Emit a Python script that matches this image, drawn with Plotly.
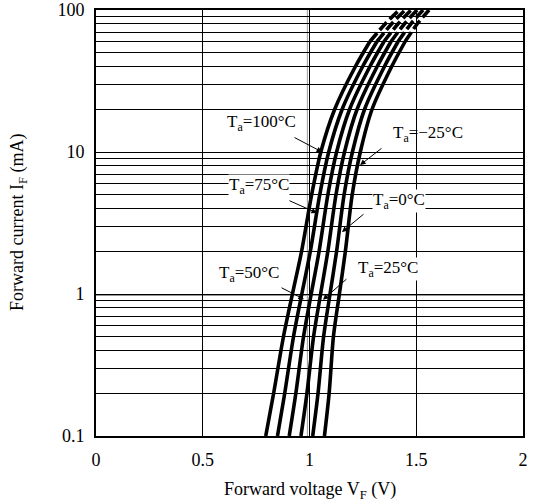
import math
import plotly.graph_objects as go

# ---- data ----
current_ma = [0.1, 0.2, 0.5, 1, 2, 5, 10, 20, 40, 60, 80, 100]
solid_end = 9  # index of 60 mA: solid up to here, dashed beyond

vf_100 = [0.795, 0.832, 0.878, 0.920, 0.963, 1.010, 1.053, 1.118, 1.215, 1.283, 1.355, 1.420]
vf_75 = [0.850, 0.884, 0.925, 0.964, 1.004, 1.048, 1.090, 1.153, 1.249, 1.316, 1.385, 1.448]
vf_50 = [0.905, 0.936, 0.972, 1.008, 1.045, 1.086, 1.127, 1.188, 1.283, 1.349, 1.415, 1.476]
vf_25 = [0.960, 0.988, 1.019, 1.052, 1.086, 1.124, 1.164, 1.223, 1.317, 1.382, 1.445, 1.504]
vf_0 = [1.015, 1.040, 1.066, 1.096, 1.127, 1.162, 1.201, 1.258, 1.351, 1.415, 1.475, 1.532]
vf_m25 = [1.070, 1.092, 1.112, 1.140, 1.168, 1.200, 1.238, 1.293, 1.385, 1.448, 1.505, 1.560]

series = [vf_100, vf_75, vf_50, vf_25, vf_0, vf_m25]

x_ticks = [0, 0.5, 1, 1.5, 2]
x_ticktext = ["0", "0.5", "1", "1.5", "2"]
y_ticks = [0.1, 1, 10, 100]
y_ticktext = ["0.1", "1", "10", "100"]
y_minor = [m * d for d in (0.1, 1, 10) for m in range(2, 10)]

labels = ["T<sub>a</sub>=100°C", "T<sub>a</sub>=75°C", "T<sub>a</sub>=50°C",
          "T<sub>a</sub>=25°C", "T<sub>a</sub>=0°C", "T<sub>a</sub>=−25°C"]
# label centre (V, mA), arrow tail (V, mA), arrow head (V, mA)
label_pos = [(0.773, 16.0), (0.763, 5.77), (0.717, 1.38), (1.368, 1.50), (1.419, 4.52), (1.555, 13.4)]
arrow_tail = [(0.923, 12.8), (0.899, 4.59), (0.862, 1.12), (1.180, 1.30), (1.260, 3.72), (1.344, 10.8)]
arrow_head = [(1.059, 10.0), (1.035, 3.72), (0.974, 0.92), (1.063, 0.91), (1.152, 2.73), (1.237, 8.1)]
label_bg = ["rgba(0,0,0,0)", "white", "white", "white", "white", "rgba(0,0,0,0)"]

FONT = "Liberation Serif, Times New Roman, serif"

fig = go.Figure()
for vf in series:
    fig.add_trace(go.Scatter(
        x=vf[:solid_end + 1], y=current_ma[:solid_end + 1], mode="lines",
        line=dict(color="black", width=3.6, shape="spline", smoothing=0.8),
        showlegend=False, hoverinfo="skip"))
    fig.add_trace(go.Scatter(
        x=vf[solid_end:], y=current_ma[solid_end:], mode="lines",
        line=dict(color="black", width=3.6, dash="11px,4px", shape="spline", smoothing=0.8),
        showlegend=False, hoverinfo="skip"))

annotations = []
for txt, (lx, ly), (tx, ty), (hx, hy), bg in zip(labels, label_pos, arrow_tail, arrow_head, label_bg):
    annotations.append(dict(
        x=hx, y=math.log10(hy), ax=tx, ay=math.log10(ty), axref="x", ayref="y",
        xref="x", yref="y", text="", showarrow=True, arrowhead=2, arrowsize=1.1,
        arrowwidth=1, arrowcolor="black", standoff=0, startstandoff=0))
    annotations.append(dict(
        x=lx, y=math.log10(ly), xref="x", yref="y", text=txt, showarrow=False,
        font=dict(family=FONT, size=17, color="black"), bgcolor=bg, borderpad=0,
        xanchor="center", yanchor="middle"))

annotations.append(dict(
    x=0.5, y=0, xref="paper", yref="paper", yshift=-54, xanchor="center", yanchor="middle",
    text="Forward voltage V<sub>F</sub> (V)", showarrow=False,
    font=dict(family=FONT, size=18, color="black")))
annotations.append(dict(
    x=0, y=0.5, xref="paper", yref="paper", xshift=-78, xanchor="center", yanchor="middle",
    text="Forward current I<sub>F</sub> (mA)", showarrow=False, textangle=-90,
    font=dict(family=FONT, size=18, color="black")))

shapes = [
    dict(type="line", xref="paper", x0=0, x1=1, yref="y", y0=math.log10(0.95), y1=math.log10(0.95),
         line=dict(color="#888888", width=1), layer="below"),
    dict(type="line", xref="paper", x0=0, x1=1, yref="y", y0=math.log10(9.5), y1=math.log10(9.5),
         line=dict(color="#888888", width=1), layer="below"),
    dict(type="line", yref="paper", y0=0, y1=1, xref="x", x0=0.99, x1=0.99,
         line=dict(color="#999999", width=1), layer="below"),
]

fig.update_layout(
    width=540, height=504,
    margin=dict(l=96, r=17, t=10, b=68, pad=0),
    paper_bgcolor="white", plot_bgcolor="white",
    font=dict(family=FONT, size=18, color="black"),
    annotations=annotations, shapes=shapes,
    xaxis=dict(range=[0, 2], tickvals=x_ticks, ticktext=x_ticktext,
               showgrid=True, gridcolor="black", gridwidth=1,
               showline=True, linecolor="black", linewidth=2, mirror=True,
               ticks="", ticklabelstandoff=6, zeroline=False, automargin=False,
               tickfont=dict(family=FONT, size=18, color="black")),
    yaxis=dict(type="log", range=[-1, 2], tickvals=y_ticks, ticktext=y_ticktext,
               showgrid=True, gridcolor="black", gridwidth=1,
               minor=dict(tickvals=y_minor, showgrid=True, gridcolor="black", gridwidth=1, ticks=""),
               showline=True, linecolor="black", linewidth=2, mirror=True,
               ticks="", ticklabelstandoff=6, zeroline=False, automargin=False,
               tickfont=dict(family=FONT, size=18, color="black")),
)

fig.write_html("out.html", config={"displayModeBar": False})

# remove the default page margin so the figure sits at the window's top-left corner
with open("out.html", "r", encoding="utf-8") as f:
    html = f.read()
html = html.replace("<head>", "<head><style>html,body{margin:0;padding:0;overflow:hidden;}</style>", 1)
with open("out.html", "w", encoding="utf-8") as f:
    f.write(html)
